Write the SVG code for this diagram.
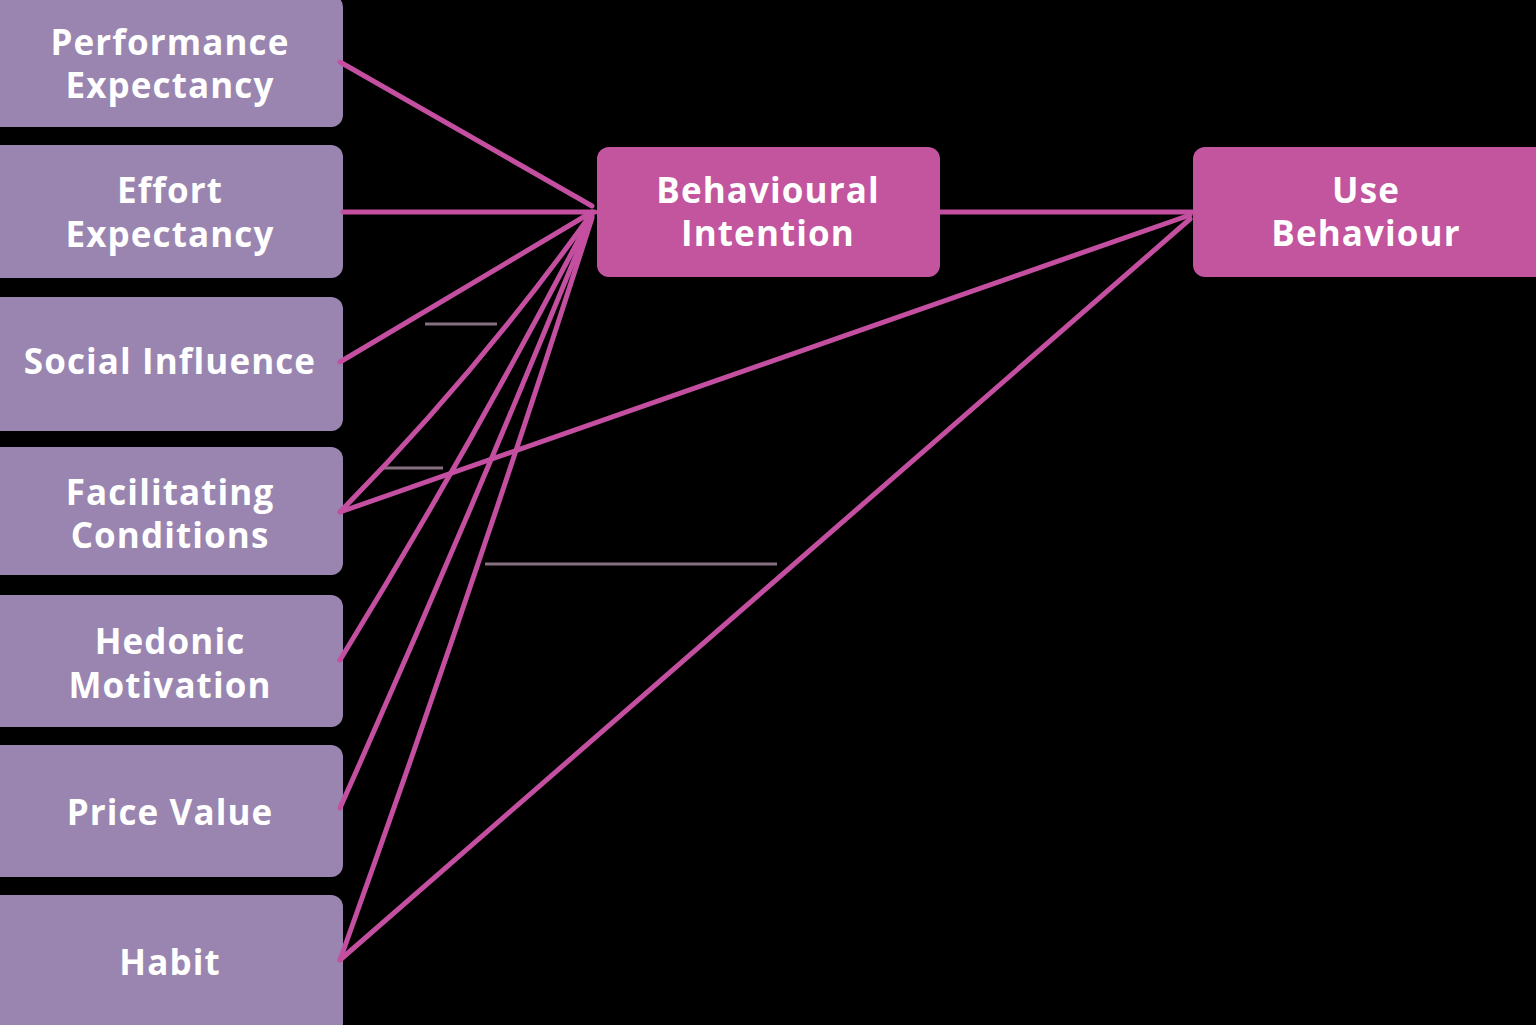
<svg xmlns="http://www.w3.org/2000/svg" width="1536" height="1025" viewBox="0 0 1536 1025">
<style>
.src rect{fill:#9985B0}
.tgt rect{fill:#C2559E}
text{font-family:"Open Sans","Noto Sans","Liberation Sans",sans-serif;font-weight:700;font-size:35px;letter-spacing:1.1px;fill:#ffffff;text-anchor:middle}
.conn path,.conn line{stroke:#C44FA0;stroke-width:5;fill:none;stroke-linecap:round}
.faint line{stroke:#85707F;stroke-width:3}
</style>
<rect x="0" y="0" width="1536" height="1025" fill="#000000"/>
<g class="faint">
<line x1="425" y1="324" x2="497" y2="324"/>
<line x1="383" y1="468" x2="443" y2="468"/>
<line x1="485" y1="564" x2="777" y2="564"/>
</g>
<g id="n-performance" class="src"><rect x="-12" y="-5" width="355" height="132" rx="12"/><text x="170" y="55">Performance</text><text x="170" y="98">Expectancy</text></g>
<g id="n-effort" class="src"><rect x="-12" y="145" width="355" height="133" rx="12"/><text x="170" y="203">Effort</text><text x="170" y="247">Expectancy</text></g>
<g id="n-social" class="src"><rect x="-12" y="297" width="355" height="134" rx="12"/><text x="170" y="374">Social Influence</text></g>
<g id="n-facilitating" class="src"><rect x="-12" y="447" width="355" height="128" rx="12"/><text x="170" y="505">Facilitating</text><text x="170" y="548">Conditions</text></g>
<g id="n-hedonic" class="src"><rect x="-12" y="595" width="355" height="132" rx="12"/><text x="170" y="654">Hedonic</text><text x="170" y="698">Motivation</text></g>
<g id="n-price" class="src"><rect x="-12" y="745" width="355" height="132" rx="12"/><text x="170" y="825">Price Value</text></g>
<g id="n-habit" class="src"><rect x="-12" y="895" width="355" height="140" rx="12"/><text x="170" y="975">Habit</text></g>
<g class="conn">
<line x1="340" y1="62" x2="592" y2="206"/>
<line x1="343" y1="212" x2="595" y2="212"/>
<line x1="340" y1="362" x2="592" y2="212"/>
<path d="M340,512 Q478,372 592,213"/>
<path d="M340,660 Q474,442 592,214"/>
<path d="M340,808 Q470,516 592,216"/>
<path d="M340,960 Q472,592 592,218"/>
<line x1="940" y1="212" x2="1192" y2="212"/>
<line x1="340" y1="512" x2="1190" y2="215"/>
<line x1="340" y1="960" x2="1190" y2="219"/>
</g>
<g id="n-intention" class="tgt"><rect x="597" y="147" width="343" height="130" rx="12"/><text x="768" y="203">Behavioural</text><text x="768" y="246">Intention</text></g>
<g id="n-use" class="tgt"><rect x="1193" y="147" width="355" height="130" rx="12"/><text x="1366" y="203">Use</text><text x="1366" y="246">Behaviour</text></g>
</svg>
